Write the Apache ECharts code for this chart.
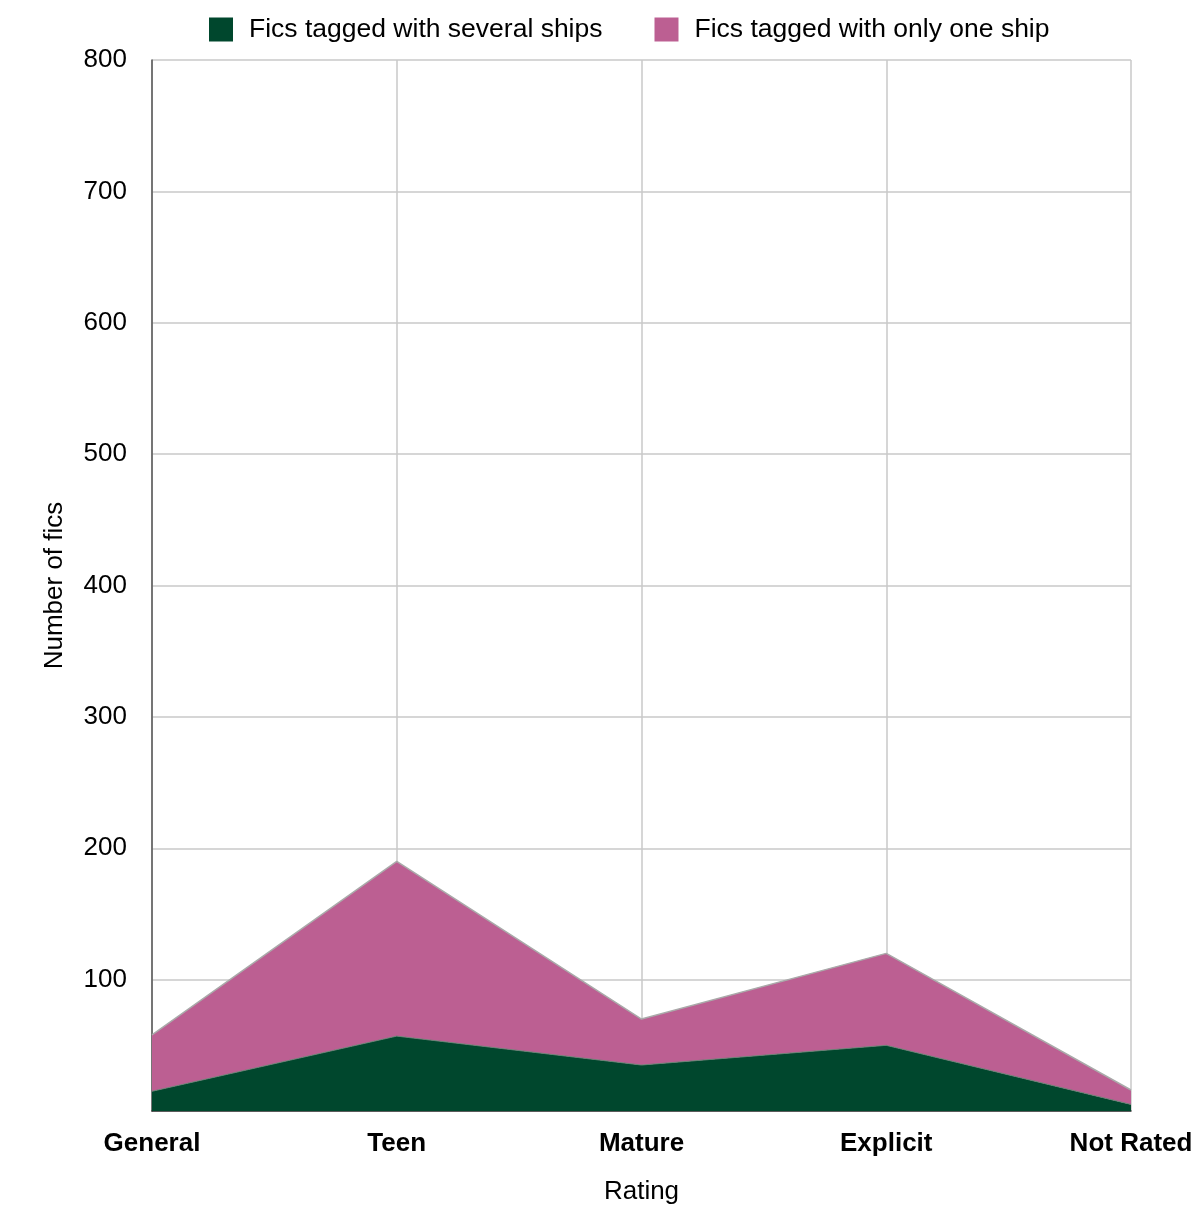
<!DOCTYPE html>
<html><head><meta charset="utf-8">
<script src="https://cdn.jsdelivr.net/npm/echarts@6/dist/echarts.min.js"></script>
<style>html,body{margin:0;padding:0;background:#fff}#c{width:1200px;height:1208px}</style>
</head><body><div id="c"></div>
<script>
const categories = ['General', 'Teen', 'Mature', 'Explicit', 'Not Rated'];
const severalShips = [15, 57, 35, 50, 5];
const oneShip = [43, 133, 35, 70, 11];
const seriesNames = ['Fics tagged with several ships', 'Fics tagged with only one ship'];

const chart = echarts.init(document.getElementById('c'));
const font = '"Liberation Sans", Arial, Helvetica, sans-serif';
chart.setOption({
  animation: false,
  textStyle: { fontFamily: font },
  legend: {
    top: 11, left: 204,
    itemWidth: 24, itemHeight: 24, itemGap: 52,
    textStyle: { fontSize: 26.5, color: '#000', fontFamily: font, padding: [0, 0, 0, 11] },
    icon: 'rect',
    data: seriesNames
  },
  grid: { left: 152, right: 69, top: 60, bottom: 97, containLabel: false, outerBoundsMode: 'none' },
  xAxis: {
    type: 'category', data: categories, boundaryGap: false,
    name: 'Rating', nameLocation: 'middle', nameGap: 68,
    nameTextStyle: { fontSize: 26, color: '#000', fontFamily: font },
    axisLine: { lineStyle: { color: '#333', width: 1.5 } },
    axisTick: { show: false },
    axisLabel: { fontSize: 26, fontWeight: 'bold', color: '#000', margin: 20, fontFamily: font },
    splitLine: { show: true, lineStyle: { color: '#c8c8c8', width: 1.5 } }
  },
  yAxis: {
    type: 'value', min: 0, max: 800, interval: 100,
    name: 'Number of fics', nameLocation: 'middle', nameGap: 84,
    nameTextStyle: { fontSize: 26, color: '#000', fontFamily: font },
    axisLine: { show: true, lineStyle: { color: '#555', width: 1.5 } },
    axisTick: { show: false },
    axisLabel: { fontSize: 26, color: '#000', margin: 25, fontFamily: font, padding: [6, 0, 0, 0],
      formatter: v => v === 0 ? '' : String(v) },
    splitLine: { show: true, lineStyle: { color: '#c8c8c8', width: 1.5 } }
  },
  series: [
    { name: seriesNames[0], type: 'line', stack: 'total', data: severalShips,
      symbol: 'none', lineStyle: { color: '#6a7f74', width: 1 },
      itemStyle: { color: '#00472d' },
      areaStyle: { color: '#00472d', opacity: 1 } },
    { name: seriesNames[1], type: 'line', stack: 'total', data: oneShip,
      symbol: 'none', lineStyle: { color: '#aaaaaa', width: 1.5 },
      itemStyle: { color: '#bc5f92' },
      areaStyle: { color: '#bc5f92', opacity: 1 } }
  ]
});
</script></body></html>
